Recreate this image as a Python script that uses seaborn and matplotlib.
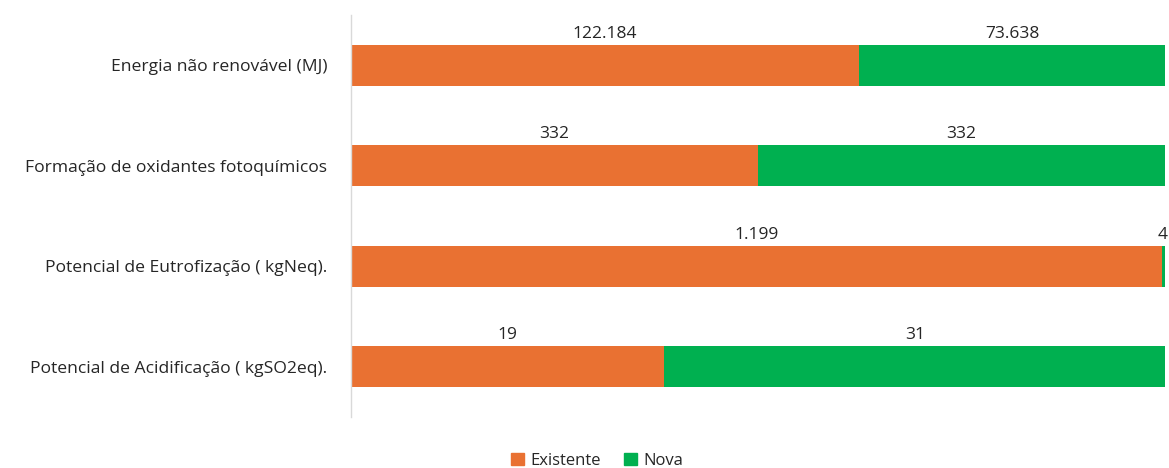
import matplotlib
matplotlib.use("Agg")
import matplotlib.pyplot as plt
import seaborn as sns
import pandas as pd
import numpy as np

categories = ["Energia não renovável (MJ)",
              "Formação de oxidantes fotoquímicos",
              "Potencial de Eutrofização ( kgNeq).",
              "Potencial de Acidificação ( kgSO2eq)."]
existente = [122184, 332, 1199, 19.4]
nova = [73638, 332, 4, 31.0]
existente_labels = ["122.184", "332", "1.199", "19"]
nova_labels = ["73.638", "332", "4", "31"]

sns.set_theme(style="white")
plt.rcParams['font.family'] = ['Open Sans', 'DejaVu Sans']

ex = np.array(existente, float)
nv = np.array(nova, float)
tot = ex + nv
df = pd.DataFrame({"cat": categories,
                   "ex": ex / tot * 100,
                   "tot": np.full(len(categories), 100.0)})

fig = plt.figure(figsize=(11.69, 4.68), dpi=100)
ax = fig.add_axes([0.3003, 0.109, 0.6964, 0.859])

orange = "#E97132"
green = "#00B050"
sns.barplot(data=df, y="cat", x="tot", color=green, width=0.41, ax=ax,
            orient="h", saturation=1, linewidth=0)
sns.barplot(data=df, y="cat", x="ex", color=orange, width=0.41, ax=ax,
            orient="h", saturation=1, linewidth=0)

ax.set_xlim(0, 100)
ax.set_ylim(3.5, -0.5)
ax.set_xlabel("")
ax.set_ylabel("")
ax.set_xticks([])
for s in ["top", "right", "bottom"]:
    ax.spines[s].set_visible(False)
ax.spines["left"].set_color("#D9D9D9")
ax.spines["left"].set_linewidth(1.0)
ax.tick_params(axis="y", which="major", length=0, pad=17, labelsize=12.6,
               labelcolor="#262626")
ax.set_yticks(np.arange(-0.5, 4.0, 1.0), minor=True)
ax.tick_params(axis="y", which="minor", length=5, color="#D9D9D9", width=1)

shares = ex / tot * 100
for i in range(len(categories)):
    y = i - 0.205 - 0.03
    ax.text(shares[i] / 2, y, existente_labels[i], ha="center", va="bottom",
            fontsize=12.5, color="#262626")
    xn = (shares[i] + 100) / 2
    if 100 - shares[i] < 2:
        xn = 99.7
    ax.text(xn, y, nova_labels[i], ha="center", va="bottom",
            fontsize=12.5, color="#262626")

handles = [plt.Rectangle((0, 0), 1, 1, color=orange),
           plt.Rectangle((0, 0), 1, 1, color=green)]
fig.legend(handles, ["Existente", "Nova"], loc="center",
           bbox_to_anchor=(0.511, 0.015), ncol=2, frameon=False,
           fontsize=12, handlelength=0.75, handleheight=0.75,
           handletextpad=0.4, columnspacing=1.4, labelcolor="#262626")

fig.savefig("out.png", dpi=100)
